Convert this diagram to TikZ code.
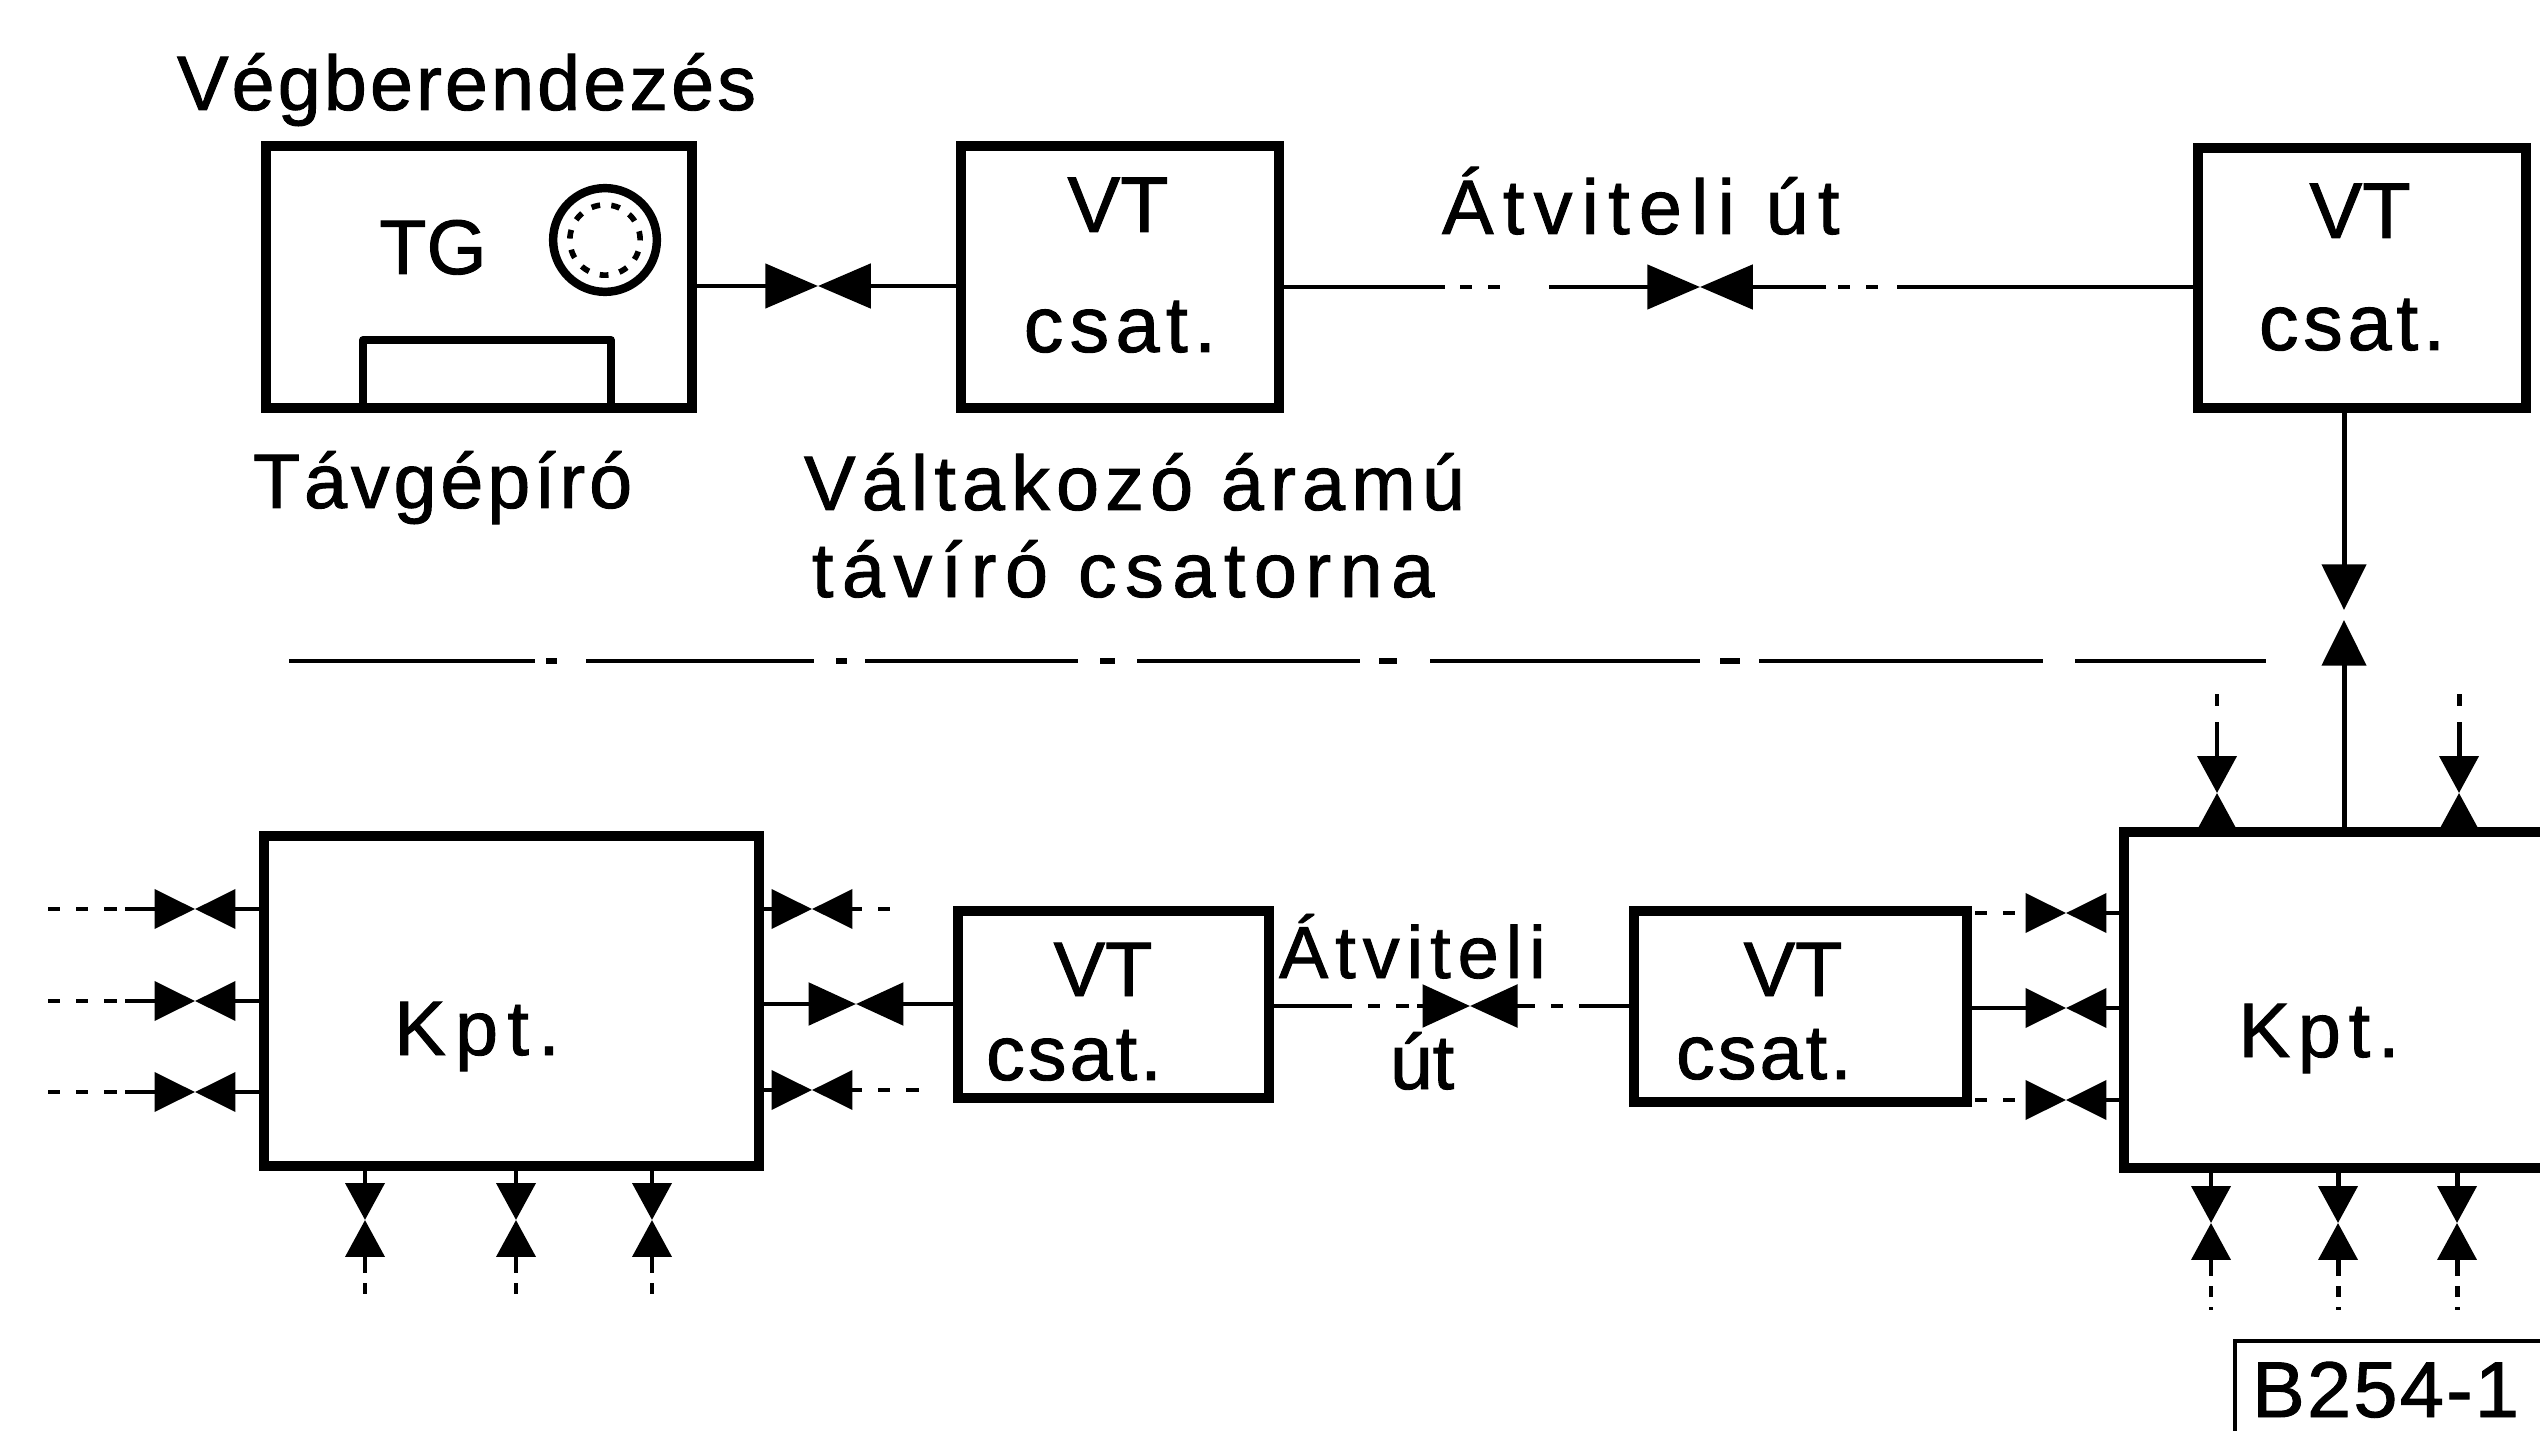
\documentclass[tikz,border=0pt]{standalone}
\usepackage{fontspec}
\setmainfont[UprightFeatures={FakeBold=1.2}]{Liberation Sans}
\usetikzlibrary{arrows.meta}
\newcommand{\pxbox}[5]{% name x1 y1 x2 y2
  \pgfmathsetmacro{\bw}{(#4-#2)*0.2845}\pgfmathsetmacro{\bh}{(#5-#3)*0.2845}
  \node[blockbox,minimum width=\bw pt,minimum height=\bh pt] (#1) at ({(#2+#4)/2},{(#3+#5)/2}) {};}
\tikzset{
  blockbox/.style={draw=black,line width=2.7pt,fill=none,inner sep=0pt,outer sep=0pt,rectangle},
  wire/.style={draw=black,line width=1.4pt},
  dotwire/.style={draw=black,line width=1.4pt,dash pattern=on 3.5pt off 4.5pt},
  sepline/.style={draw=black,line width=1.4pt},
  sepdot/.style={draw=black,line width=1.9pt},
  tipL/.style={wire,-{Triangle[length=15pt,width=12.5pt]}},
  tipM/.style={wire,-{Triangle[length=11.5pt,width=11pt]}},
  tipS/.style={wire,-{Triangle[length=10.5pt,width=11pt]}},
  tipV/.style={wire,-{Triangle[length=10.5pt,width=10.5pt]}},
  lab/.style={inner sep=0pt,outer sep=0pt,anchor=base west,text=black},
  big/.style={lab,font=\fontsize{22.5}{24}\selectfont},
  mid/.style={lab,font=\fontsize{22}{24}\selectfont},
  tag/.style={lab,font=\fontsize{22.5}{24}\selectfont},
}
\begin{document}
\begin{tikzpicture}[x=0.01cm,y=-0.01cm]
\useasboundingbox (0,0) rectangle (2540,1431);
\clip (0,0) rectangle (2540,1431);
% ---------- boxes
\pxbox{tg}{266}{146}{692}{408}
\pxbox{vta}{961}{146}{1279}{408}
\pxbox{vtb}{2198}{148}{2526}{408}
\pxbox{kl}{264}{836}{759}{1166}
\pxbox{vtc}{958}{911}{1269}{1098}
\pxbox{vtd}{1634}{911}{1967}{1102}
\pxbox{kr}{2124}{832}{2700}{1168}
% teleprinter details
\node[draw=black,line width=2.4pt,circle,minimum size=29.5pt,inner sep=0pt] (dial) at (605,240) {};
\node[draw=black,line width=1.6pt,circle,dash pattern=on 2.5pt off 3.2pt,minimum size=20pt,inner sep=0pt] (dialin) at (605,240) {};
\coordinate (taba) at (363,408);
\coordinate (tabb) at (611,408);
\coordinate (tabt) at (363,340);
\draw[line width=2.2pt,line join=round] (taba) |- (tabb |- tabt) -- (tabb);
% ---------- labels
\node[lab,font=\fontsize{22}{24}\selectfont] (t1) at (177,110) {\addfontfeature{LetterSpace=4}Végberendezés};
\node[lab,font=\fontsize{22}{24}\selectfont,anchor=base] (t2) at (433,274) {TG};
\node[lab,font=\fontsize{22}{24}\selectfont] (t3) at (253,508) {\addfontfeature{LetterSpace=5}Távgépíró};
\node[lab,font=\fontsize{22}{24}\selectfont] (t4) at (804,510) {\addfontfeature{LetterSpace=8}Váltakozó áramú};
\node[lab,font=\fontsize{22}{24}\selectfont] (t5) at (812,597) {\addfontfeature{LetterSpace=11}távíró csatorna};
\node[lab,font=\fontsize{22}{24}\selectfont] (t6) at (1442,234) {\addfontfeature{LetterSpace=12}Átviteli út};
\node[big,anchor=base] (t7) at (1118,232) {VT};
\node[big,anchor=base] (t8) at (1120,352) {\addfontfeature{LetterSpace=8}csat.};
\node[big,anchor=base] (t9) at (2360,238) {VT};
\node[big,anchor=base] (t10) at (2352,350) {\addfontfeature{LetterSpace=6}csat.};
\node[mid,anchor=base] (t11) at (1103,996) {VT};
\node[mid,anchor=base] (t12) at (1074,1080) {\addfontfeature{LetterSpace=4}csat.};
\node[mid,anchor=base] (t13) at (1793,996) {VT};
\node[mid,anchor=base] (t14) at (1764,1079) {\addfontfeature{LetterSpace=4}csat.};
\node[mid,anchor=base] (t15) at (477,1055) {\addfontfeature{LetterSpace=12}Kpt.};
\node[mid,anchor=base] (t16) at (2319,1057) {\addfontfeature{LetterSpace=10}Kpt.};
\node[lab,font=\fontsize{21}{24}\selectfont] (t17) at (1279,978) {\addfontfeature{LetterSpace=9.5}Átviteli};
\node[mid,anchor=base] (t18) at (1422,1089) {út};
\node[tag] (t19) at (2252,1417) {\addfontfeature{LetterSpace=3}B254-1};
% tag frame
\coordinate (fa) at (2235,1431);
\coordinate (fb) at (2540,1341);
\draw[line width=1.1pt] (fa) |- (fb);
% ---------- top link 1
\coordinate (b1) at (818,286);
\draw[tipL] (tg.east |- b1) -- (b1);
\draw[tipL] (vta.west |- b1) -- (b1);
% ---------- top link 2
\coordinate (b2) at (1700,287);
\coordinate (l2a) at (1445,287);
\coordinate (l2b) at (1549,287);
\coordinate (l2c) at (1826,287);
\coordinate (l2d) at (1897,287);
\draw[wire] (vta.east |- b2) -- (l2a);
\draw[dotwire] (l2a) ++(15,0) -- (1505,287);
\draw[tipL] (l2b) -- (b2);
\draw[tipL] (l2c) -- (b2);
\draw[dotwire] (l2c) ++(12,0) -- (1882,287);
\draw[wire] (l2d) -- (vtb.west |- l2d);
% ---------- vertical link
\coordinate (v1) at (2344,610);
\coordinate (v2) at (2344,620);
\draw[tipV,-{Triangle[length=13pt,width=12.5pt]}] (vtb.south -| v1) -- (v1);
\draw[tipV,-{Triangle[length=13pt,width=12.5pt]}] (kr.north -| v2) -- (v2);
% ---------- separator
\foreach \a/\b in {289/535,586/814,865/1078,1137/1360,1430/1700,1759/2043,2075/2266}
  \draw[sepline] (\a,661) -- (\b,661);
\foreach \a/\b in {546/557,836/847,1100/1115,1379/1397,1720/1740}
  \draw[sepdot] (\a,661) -- (\b,661);
% ---------- small arrows on the top of right exchange
\foreach \x/\n in {2217/a,2459/b}{
  \coordinate (ut\n) at (\x,793);
  \coordinate (us\n) at (\x,726);
  \coordinate (uf\n) at (\x,694);
  \draw[dotwire] (uf\n) -- (us\n);
  \draw[tipS] (us\n) -- (ut\n);
  \draw[tipS] (kr.north -| ut\n) -- (ut\n);
}
% ---------- left exchange, left side
\foreach \y/\n in {909/a,1001/b,1092/c}{
  \coordinate (lb\n) at (195,\y);
  \coordinate (ls\n) at (125,\y);
  \coordinate (lf\n) at (48,\y);
  \draw[tipM] (ls\n) -- (lb\n);
  \draw[tipM] (kl.west |- lb\n) -- (lb\n);
  \draw[dotwire] (lf\n) -- (ls\n);
}
% ---------- left exchange, right side
\coordinate (rba) at (812,909);
\coordinate (rbb) at (856,1004);
\coordinate (rbc) at (812,1090);
\coordinate (rsa) at (850,909);
\coordinate (rsc) at (850,1090);
\coordinate (rfa) at (905,909);
\coordinate (rfc) at (925,1090);
\draw[tipM] (kl.east |- rba) -- (rba);
\draw[tipM] (rsa) -- (rba);
\draw[dotwire] (rsa) -- (rfa);
\draw[tipM] (kl.east |- rbc) -- (rbc);
\draw[tipM] (rsc) -- (rbc);
\draw[dotwire] (rsc) -- (rfc);
\draw[tipL,-{Triangle[length=13.5pt,width=12pt]}] (kl.east |- rbb) -- (rbb);
\draw[tipL,-{Triangle[length=13.5pt,width=12pt]}] (vtc.west |- rbb) -- (rbb);
% ---------- left exchange, bottom
\foreach \x/\n in {365/a,516/b,652/c}{
  \coordinate (db\n) at (\x,1220);
  \coordinate (ds\n) at (\x,1262);
  \coordinate (df\n) at (\x,1296);
  \draw[tipS] (kl.south -| db\n) -- (db\n);
  \draw[tipS] (ds\n) -- (db\n);
  \draw[dotwire,dash pattern=on 3pt off 3pt] (ds\n) -- (df\n);
}
% ---------- middle link
\coordinate (b3) at (1470,1006);
\coordinate (m1) at (1340,1006);
\coordinate (m2) at (1417,1006);
\coordinate (m3) at (1523,1006);
\coordinate (m4) at (1583,1006);
\draw[wire] (vtc.east |- m1) -- (m1);
\draw[dotwire] (m1) -- (m2);
\draw[tipM,-{Triangle[length=13.5pt,width=12pt]}] (m2) -- (b3);
\draw[tipM,-{Triangle[length=13.5pt,width=12pt]}] (m3) -- (b3);
\draw[dotwire] (m3) -- (m4);
\draw[wire] (m4) -- (vtd.west |- m4);
% ---------- right exchange, left side
\coordinate (pba) at (2066,913);
\coordinate (pbb) at (2066,1008);
\coordinate (pbc) at (2066,1100);
\coordinate (psa) at (2026,913);
\coordinate (psc) at (2026,1100);
\coordinate (pfa) at (1975,913);
\coordinate (pfc) at (1975,1100);
\draw[tipM] (psa) -- (pba);
\draw[tipM] (kr.west |- pba) -- (pba);
\draw[dotwire] (pfa) -- (psa);
\draw[tipM] (vtd.east |- pbb) -- (pbb);
\draw[tipM] (kr.west |- pbb) -- (pbb);
\draw[tipM] (psc) -- (pbc);
\draw[tipM] (kr.west |- pbc) -- (pbc);
\draw[dotwire] (pfc) -- (psc);
% ---------- right exchange, bottom
\foreach \x/\n in {2211/a,2338/b,2457/c}{
  \coordinate (eb\n) at (\x,1223);
  \coordinate (es\n) at (\x,1265);
  \coordinate (ef\n) at (\x,1310);
  \draw[tipS] (kr.south -| eb\n) -- (eb\n);
  \draw[tipS] (es\n) -- (eb\n);
  \draw[dotwire,dash pattern=on 3pt off 3pt] (es\n) -- (ef\n);
}
\end{tikzpicture}
\end{document}
